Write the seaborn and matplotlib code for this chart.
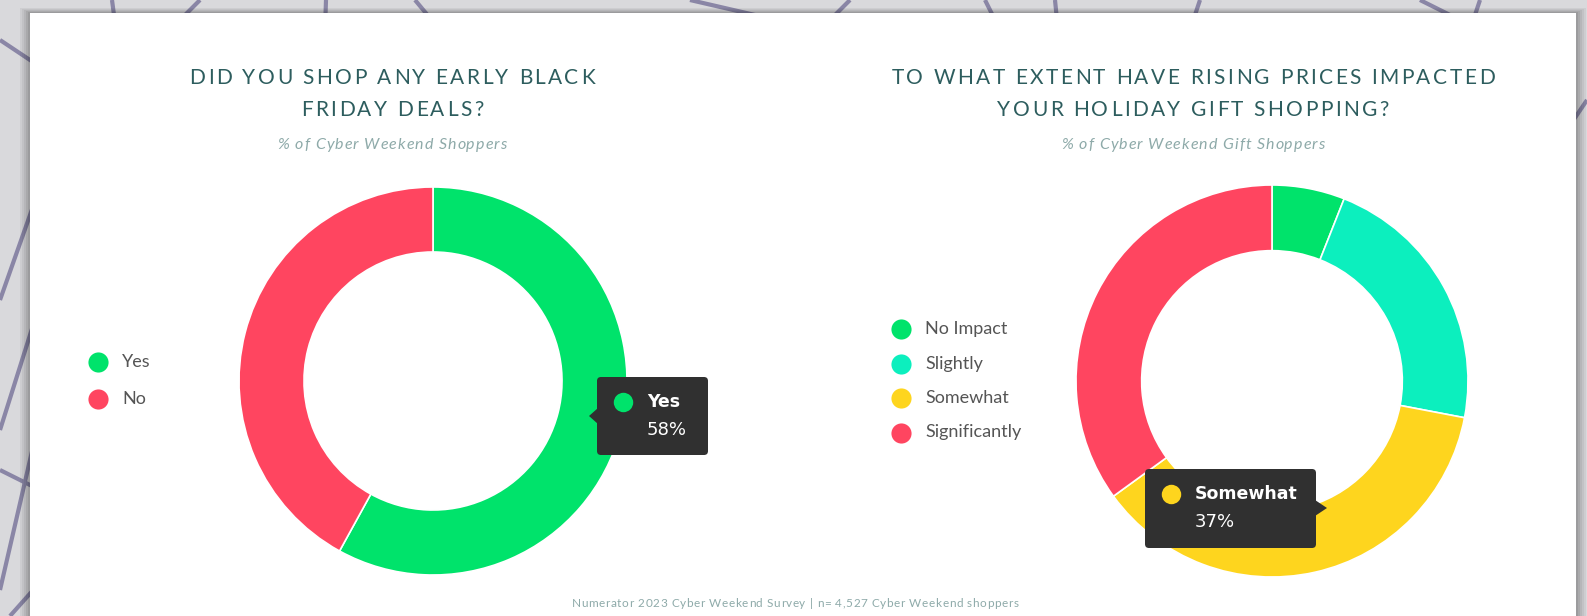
import matplotlib
matplotlib.use("Agg")
import matplotlib.pyplot as plt
import seaborn as sns
from matplotlib.patches import FancyBboxPatch, Polygon, Rectangle
from matplotlib.lines import Line2D
from matplotlib.transforms import Affine2D
from matplotlib.font_manager import FontProperties

# ---------------- data ----------------
q1_title = ["DID YOU SHOP ANY EARLY BLACK", "FRIDAY DEALS?"]
q1_subtitle = "% of Cyber Weekend Shoppers"
q1_labels = ["Yes", "No"]
q1_values = [58, 42]
q1_colors = ["#00E36B", "#FF4560"]

q2_title = ["TO WHAT EXTENT HAVE RISING PRICES IMPACTED", "YOUR HOLIDAY GIFT SHOPPING?"]
q2_subtitle = "% of Cyber Weekend Gift Shoppers"
q2_labels = ["No Impact", "Slightly", "Somewhat", "Significantly"]
q2_values = [6, 22, 37, 35]
q2_colors = ["#00E36B", "#0CEFBE", "#FED51E", "#FF4560"]

footer = "Numerator 2023 Cyber Weekend Survey | n= 4,527 Cyber Weekend shoppers"

# ---------------- style ----------------
sns.set_theme(style="white")
plt.rcParams['font.family'] = ['Lato', 'DejaVu Sans']

W, H = 1587, 616
fig = plt.figure(figsize=(W / 100, H / 100), dpi=100, facecolor="#d9d9dc")
# pixel coordinates measured from the top-left corner
px = Affine2D().scale(1 / W, -1 / H).translate(0, 1) + fig.transFigure
renderer = fig.canvas.get_renderer()

TITLE_C = "#2d5d5e"
SUB_C = "#8eaaa9"
LEG_C = "#555555"
TIP_BG = "#303030"


def tracked(x, y, s, track, family="Lato", size=12, style="normal", weight="normal",
            color="black", ha="center", zorder=3):
    """Draw a single line of text with extra letter spacing; y is the baseline."""
    prop = FontProperties(family=family, size=size, style=style, weight=weight)
    bar = renderer.get_text_width_height_descent("|", prop, ismath=False)[0]

    def width(t):
        if not t:
            return 0.0
        return renderer.get_text_width_height_descent(t + "|", prop, ismath=False)[0] - bar

    total = width(s) + (len(s) - 1) * track
    x0 = x - total / 2 if ha == "center" else x
    for i, c in enumerate(s):
        if c == " ":
            continue
        fig.text(x0 + width(s[:i]) + i * track, y, c, transform=px, ha="left",
                 va="baseline", fontproperties=prop, color=color, zorder=zorder)


# decorative background lines (only visible in the margins)
bg_lines = [
    ((0, 40), (60, 80)), ((0, 300), (60, 130)), ((0, 430), (60, 240)),
    ((0, 470), (60, 500)), ((0, 590), (60, 330)), ((10, 616), (60, 560)),
    ((112, 0), (116, 30)), ((200, 0), (170, 30)), ((326, 0), (325, 30)),
    ((415, 0), (440, 30)), ((690, 0), (820, 30)), ((850, 0), (820, 30)),
    ((985, 0), (1000, 30)), ((1055, 0), (1058, 30)), ((1200, 0), (1190, 30)),
    ((1420, 0), (1480, 30)), ((1480, 0), (1470, 30)), ((1587, 100), (1560, 140)),
]
for (x0, y0), (x1, y1) in bg_lines:
    fig.add_artist(Line2D([x0, x1], [y0, y1], transform=px, color="#8a86a6",
                          lw=3, zorder=-5, solid_capstyle="butt"))

# card shadow + card
for i, a in enumerate([0.05, 0.05, 0.06, 0.07, 0.08]):
    d = 10 - 2 * i
    fig.add_artist(Rectangle((30 - d, 13 - d / 2), 1546 + 2 * d, 620, transform=px,
                             facecolor="black", edgecolor="none", alpha=a, zorder=-4))
fig.add_artist(Rectangle((30, 13), 1546, 620, transform=px,
                         facecolor="white", edgecolor="none", zorder=-3))


def donut(cx, cy, r, values, colors):
    ax = fig.add_axes([(cx - r) / W, 1 - (cy + r) / H, 2 * r / W, 2 * r / H])
    ax.set_facecolor("none")
    ax.pie(values, colors=colors, startangle=90, counterclock=False,
           wedgeprops=dict(width=0.335, edgecolor="white", linewidth=1.2))
    ax.set_xlim(-1, 1)
    ax.set_ylim(-1, 1)
    ax.set_aspect("equal")
    ax.axis("off")
    return ax


def legend(x, y0, dy, labels, colors):
    for i, (lab, col) in enumerate(zip(labels, colors)):
        y = y0 + i * dy
        fig.add_artist(Line2D([x], [y], transform=px, marker="o", markersize=14.5,
                              markerfacecolor=col, markeredgecolor="none", lw=0))
        fig.text(x + 24, y, lab, transform=px, ha="left", va="center",
                 fontsize=13, color=LEG_C)


def tooltip(x0, y0, x1, y1, side, tip, label, value, col):
    fig.add_artist(FancyBboxPatch((x0, y0), x1 - x0, y1 - y0,
                                  boxstyle="round,pad=0,rounding_size=4", transform=px,
                                  facecolor=TIP_BG, edgecolor="none", zorder=5))
    tx, ty = tip
    if side == "left":
        pts = [(x0 + 1, ty - 8), (tx, ty), (x0 + 1, ty + 8)]
    else:
        pts = [(x1 - 1, ty - 8), (tx, ty), (x1 - 1, ty + 8)]
    fig.add_artist(Polygon(pts, closed=True, transform=px, facecolor=TIP_BG,
                           edgecolor="none", zorder=5))
    fig.add_artist(Line2D([x0 + 26], [y0 + 25], transform=px, marker="o", markersize=14,
                          markerfacecolor=col, markeredgecolor="none", lw=0, zorder=6))
    fig.text(x0 + 50, y0 + 25, label, transform=px, ha="left", va="center",
             fontsize=12.5, fontweight="bold", color="white", family="DejaVu Sans",
             zorder=6)
    fig.text(x0 + 50, y0 + 53, f"{value}%", transform=px, ha="left", va="center",
             fontsize=13, color="white", family="DejaVu Sans", zorder=6)


def titles(cx, lines, subtitle):
    for k, line in enumerate(lines):
        tracked(cx, 84 + 31.5 * k, line, 2.5, size=15, color=TITLE_C)
    tracked(cx, 149, subtitle, 1.0, size=11.5, style="italic", color=SUB_C)


# ---------------- left chart ----------------
titles(392, q1_title, q1_subtitle)
donut(433, 381, 194, q1_values, q1_colors)
legend(98, 362, 36.5, q1_labels, q1_colors)
tooltip(597, 377, 708, 455, "left", (589, 416), q1_labels[0], q1_values[0], q1_colors[0])

# ---------------- right chart ----------------
titles(1193, q2_title, q2_subtitle)
donut(1272, 381, 196, q2_values, q2_colors)
legend(901, 329, 34.5, q2_labels, q2_colors)
tooltip(1145, 469, 1316, 548, "right", (1327, 508), q2_labels[2], q2_values[2], q2_colors[2])

# ---------------- footer ----------------
tracked(795, 607, footer, 0.6, size=8.5, color=SUB_C)

fig.savefig("out.png", dpi=100, facecolor=fig.get_facecolor())
